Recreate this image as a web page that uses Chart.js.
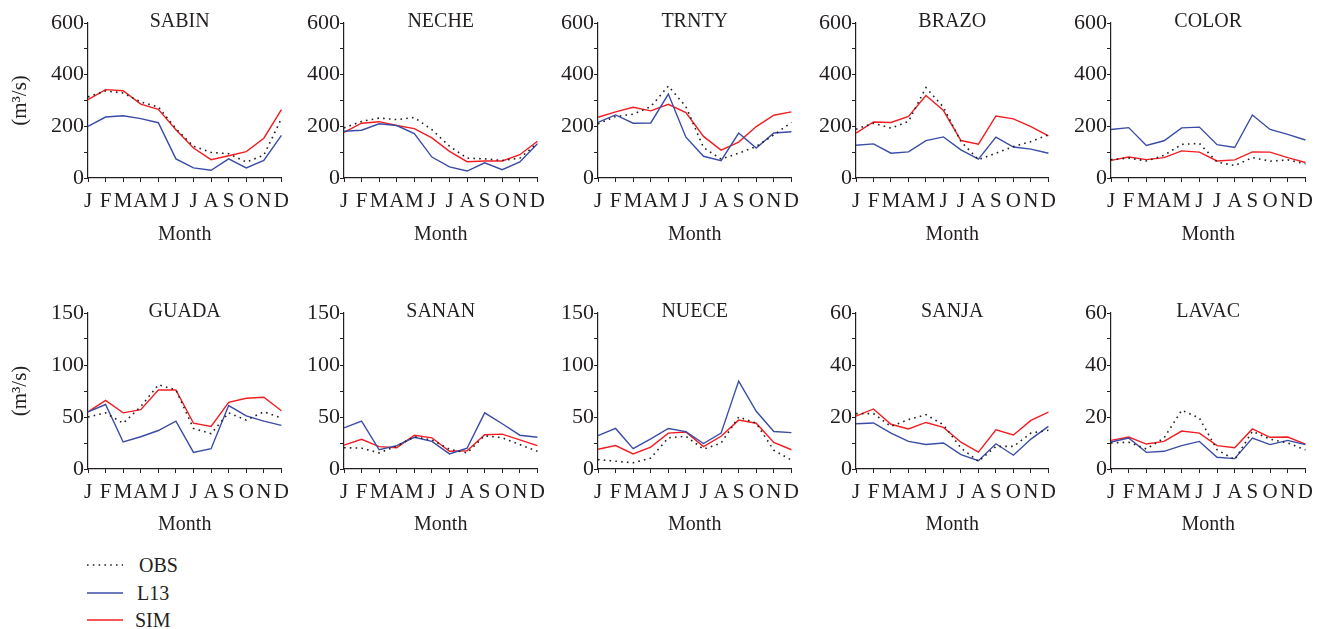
<!DOCTYPE html>
<html><head><meta charset="utf-8">
<script src="https://cdn.jsdelivr.net/npm/chart.js@4/dist/chart.umd.min.js"></script>
<style>
body{margin:0;background:#fff;width:1325px;height:629px;position:relative;overflow:hidden;font-family:"Liberation Serif",serif;color:#231f20}
canvas{position:absolute}
.lt{position:absolute;font-size:20px;line-height:20px;white-space:nowrap}
svg{position:absolute}
</style></head><body>
<script>
const months = ['J','F','M','A','M','J','J','A','S','O','N','D'];
const stations = ['SABIN','NECHE','TRNTY','BRAZO','COLOR','GUADA','SANAN','NUECE','SANJA','LAVAC'];
const yMax = [600,600,600,600,600,150,150,150,60,60];
const yMajor = [200,200,200,200,200,50,50,50,20,20];
const yMinor = [100,100,100,100,100,25,25,25,10,10];

const obsSABIN = [314,337,329,294,275,191,123,99,94,62,88,230];
const l13SABIN = [200,236,241,230,214,74,39,30,74,39,68,165];
const simSABIN = [303,342,338,286,266,187,116,71,86,102,154,265];

const obsNECHE = [194,219,232,226,234,187,123,77,74,68,77,135];
const l13NECHE = [181,185,210,203,172,81,43,27,59,32,62,133];
const simNECHE = [177,212,218,203,191,155,103,63,66,66,90,142];

const obsTRNTY = [210,238,247,276,356,276,118,73,96,122,167,215];
const l13TRNTY = [215,244,212,213,325,158,84,67,174,116,174,179];
const simTRNTY = [235,256,274,260,285,253,161,108,139,199,243,256];

const obsBRAZO = [189,212,193,219,350,274,141,71,96,122,141,167];
const l13BRAZO = [127,132,96,101,145,159,109,73,158,120,112,96];
const simBRAZO = [174,217,215,238,319,261,145,131,240,229,199,163];

const obsCOLOR = [71,77,66,88,130,134,62,48,79,65,70,55];
const l13COLOR = [188,195,126,144,194,197,129,118,244,188,169,147];
const simCOLOR = [68,81,71,79,105,100,66,70,101,100,79,60];

const obsGUADA = [50,54,44,60,81,76,39,34,54,47,55,49];
const l13GUADA = [55,62,26,31,37,46,16,19.5,61,51,46,42];
const simGUADA = [55,66,54,57,76,76,44,41,64,68,69,56];

const obsSANAN = [20.5,20,15.5,22,31,28,19,15.5,32,30,23.5,17];
const l13SANAN = [39.5,46,18.5,22.5,30.5,26.5,14.5,20,54,43.5,32.5,30.5];
const simSANAN = [23,28.5,21.5,20.5,32.5,30,17,17.5,33,33.5,28,22.5];

const obsNUECE = [9,7.5,6,10.5,30,31.5,19,25,50,44,18,8.5];
const l13NUECE = [32,39,19.5,29,39,36,24.5,34.5,84.5,55.5,36,35];
const simNUECE = [19,22.5,14.5,21,34.5,35.5,21.5,31.5,47,44,25.5,18.5];

const obsSANJA = [21.3,21.3,16.4,19,20.9,17,8.1,2.9,8.7,8.7,13.8,14.9];
const l13SANJA = [17.4,17.7,13.8,10.6,9.4,10,5.5,3.2,9.7,5.3,11.5,16.4];
const simSANJA = [20.3,23.1,17.2,15.4,17.9,16,10.3,6.5,15.1,13.1,18.7,21.9];

const obsLAVAC = [10,10.3,7.7,11.9,22.6,19.6,7.4,3.6,14.5,11.5,10,7.4];
const l13LAVAC = [10.4,11.9,6.4,6.8,9,10.6,4.5,4,11.9,9.4,11,9.4];
const simLAVAC = [11,12.3,9.6,10.6,14.6,13.8,9,8.2,15.4,12.2,12.3,9.6];

const obsAll = [obsSABIN,obsNECHE,obsTRNTY,obsBRAZO,obsCOLOR,obsGUADA,obsSANAN,obsNUECE,obsSANJA,obsLAVAC];
const l13All = [l13SABIN,l13NECHE,l13TRNTY,l13BRAZO,l13COLOR,l13GUADA,l13SANAN,l13NUECE,l13SANJA,l13LAVAC];
const simAll = [simSABIN,simNECHE,simTRNTY,simBRAZO,simCOLOR,simGUADA,simSANAN,simNUECE,simSANJA,simLAVAC];

const TXT = '#231f20';
const FAM = '"Liberation Serif", "Times New Roman", serif';
const colAxisX = [88,344,598,856,1111];
const plotW = [194,194,194,193,195];
const rowTop = [0,290];
const plotH = [155,156];
const PADTOP = 23;
const CH = 250;

const panelTitle = {
  id:'panelTitle',
  afterDraw(chart, args, opts){
    const {ctx, chartArea} = chart;
    ctx.save();
    ctx.font = '20px ' + FAM;
    ctx.fillStyle = TXT;
    ctx.textAlign = 'center';
    ctx.textBaseline = 'middle';
    ctx.fillText(opts.text, (chartArea.left + chartArea.right)/2 + opts.dx, chartArea.top - 1);
    ctx.restore();
  }
};

function makePanel(i){
  const col = i % 5, row = Math.floor(i / 5);
  const yW = col === 0 ? 88 : 60;
  const rp = 14;
  const W = yW + plotW[col] + rp;
  const xH = CH - PADTOP - plotH[row];
  const cv = document.createElement('canvas');
  cv.width = W; cv.height = CH;
  cv.style.left = (colAxisX[col] - yW) + 'px';
  cv.style.top = rowTop[row] + 'px';
  cv.style.width = W + 'px'; cv.style.height = CH + 'px';
  document.body.appendChild(cv);
  const major = yMajor[i];
  new Chart(cv, {
    type:'line',
    data:{labels:months, datasets:[
      {label:'OBS', data:obsAll[i], borderColor:TXT, borderDash:[1.6,4.2], borderWidth:1.6, pointRadius:0, tension:0, fill:false},
      {label:'L13', data:l13All[i], borderColor:'#3a4ca6', borderWidth:1.4, pointRadius:0, tension:0, fill:false},
      {label:'SIM', data:simAll[i], borderColor:'#f01e23', borderWidth:1.4, pointRadius:0, tension:0, fill:false}
    ]},
    options:{
      responsive:false, animation:false, events:[],
      layout:{padding:{top:PADTOP, left:0, right:rp, bottom:0}},
      plugins:{legend:{display:false}, tooltip:{enabled:false}, panelTitle:{text:stations[i], dx:(i===0?-5:0)}},
      scales:{
        x:{
          offset:false,
          grid:{display:true, drawOnChartArea:false, drawTicks:true, tickLength:4, color:TXT, lineWidth:1},
          border:{display:true, color:TXT, width:1.2},
          ticks:{autoSkip:false, maxRotation:0, minRotation:0, padding:7, color:TXT, font:{family:FAM, size:21}},
          title:{display:true, text:'Month', color:TXT, font:{family:FAM, size:20}, padding:{top:0, bottom:3}},
          afterFit(s){ s.height = xH; }
        },
        y:{
          min:0, max:yMax[i],
          grid:{display:true, drawOnChartArea:false, drawTicks:true, tickLength:4, color:TXT, lineWidth:1},
          border:{display:true, color:TXT, width:1.2},
          ticks:{stepSize:yMinor[i], autoSkip:false, padding:0, color:TXT, font:{family:FAM, size:22},
            callback:(v)=> (v % major === 0 ? String(v) : '')},
          title:{display:col === 0, text:'(m³/s)', color:TXT, font:{family:FAM, size:21}, padding:{top:8, bottom:0}},
          afterFit(s){ s.width = yW; }
        }
      }
    },
    plugins:[panelTitle]
  });
}
for (let i = 0; i < stations.length; i++) makePanel(i);
</script>
<svg style="left:80px;top:550px" width="50" height="80">
  <line x1="7" y1="15" x2="43" y2="15" stroke="#231f20" stroke-width="1.6" stroke-dasharray="1.6 4.2"/>
  <line x1="7" y1="43" x2="43" y2="43" stroke="#3a4ca6" stroke-width="1.4"/>
  <line x1="7" y1="70" x2="43" y2="70" stroke="#f01e23" stroke-width="1.4"/>
</svg>
<div class="lt" style="left:139px;top:555px">OBS</div>
<div class="lt" style="left:137px;top:583px">L13</div>
<div class="lt" style="left:135px;top:610px">SIM</div>
</body></html>
